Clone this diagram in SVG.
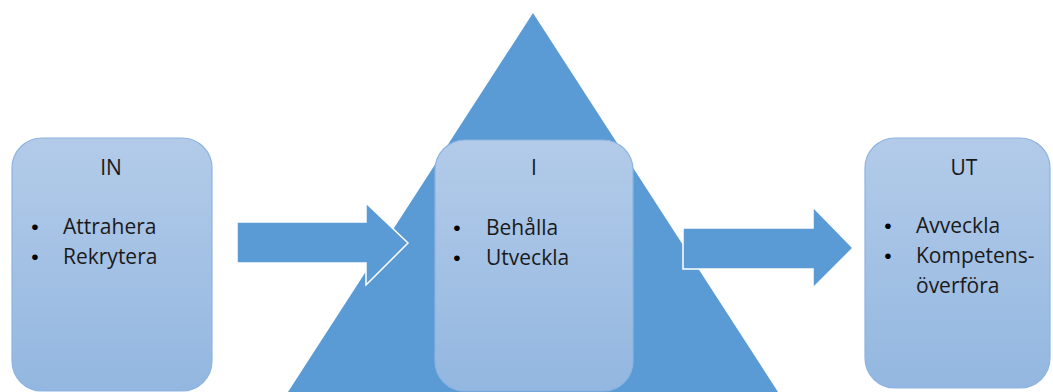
<svg xmlns="http://www.w3.org/2000/svg" width="1053" height="392" viewBox="0 0 1053 392">
  <defs>
    <linearGradient id="boxGrad" x1="0" y1="0" x2="0" y2="1">
      <stop offset="0" stop-color="#b3cbe9"/>
      <stop offset="1" stop-color="#93b7e0"/>
    </linearGradient>
    <style>
      .box { fill: url(#boxGrad); stroke: #8db4e2; stroke-width: 1.2; }
      .shape { fill: #5b9bd5; }
      .arrow { fill: #5b9bd5; stroke: #ffffff; stroke-width: 1.5; stroke-linejoin: miter; }
      text { font-family: "Open Sans", "Liberation Sans", sans-serif; font-size: 21px; fill: #1a1a1a; }
      .title { text-anchor: middle; }
      .bullet { text-anchor: middle; font-family: "Liberation Sans", Arial, sans-serif; font-size: 21px; fill: #000000; }
    </style>
  </defs>
  <rect width="1053" height="392" fill="#ffffff"/>

  <g id="triangle">
    <polygon class="shape" points="533,13 778,392 288,392"/>
  </g>

  <g id="connectors">
    <polygon class="arrow" points="237,222 366,222 366,203 408,243 366,285 366,263 237,263"/>
    <polygon class="arrow" points="683,228 813,228 813,207 853,248 813,288 813,269 683,269"/>
  </g>

  <g id="node-in">
    <rect class="box" x="12" y="138" width="200" height="253" rx="30" ry="30"/>
    <text class="title" x="111" y="175">IN</text>
    <text class="bullet" x="35" y="234">•</text>
    <text x="63" y="234">Attrahera</text>
    <text class="bullet" x="35" y="264">•</text>
    <text x="63" y="264">Rekrytera</text>
  </g>

  <g id="node-i">
    <rect class="box" x="435" y="140" width="198" height="251" rx="30" ry="30"/>
    <text class="title" x="534" y="175">I</text>
    <text class="bullet" x="457" y="235">•</text>
    <text x="486" y="235">Behålla</text>
    <text class="bullet" x="457" y="265">•</text>
    <text x="486" y="265">Utveckla</text>
  </g>

  <g id="node-ut">
    <rect class="box" x="865" y="138" width="185" height="250" rx="30" ry="30"/>
    <text class="title" x="964" y="175">UT</text>
    <text class="bullet" x="888" y="233">•</text>
    <text x="916" y="233">Avveckla</text>
    <text class="bullet" x="888" y="263">•</text>
    <text x="916" y="263">Kompetens-</text>
    <text x="916" y="293">överföra</text>
  </g>
</svg>
